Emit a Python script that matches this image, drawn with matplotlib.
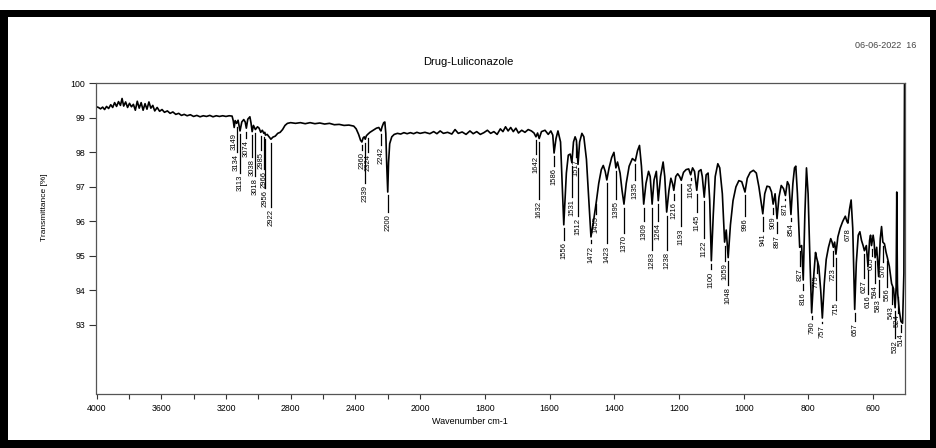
import numpy as np
import matplotlib
matplotlib.use('Agg')
import matplotlib.pyplot as plt
from matplotlib.patches import Rectangle

plt.rcParams['font.family'] = ['Liberation Sans', 'DejaVu Sans']

# spectrum vertices (wavenumber cm-1, transmittance %)
wn = [4000, 3988, 3975, 3962, 3950, 3938, 3925, 3912, 3900, 3888, 3876, 3864, 3852, 3842, 3832, 3820,
      3808, 3796, 3784, 3772, 3760, 3748, 3736, 3724, 3712, 3700, 3688, 3676, 3664, 3652, 3640, 3625,
      3610, 3595, 3580, 3562, 3545, 3528, 3510, 3492, 3475, 3458, 3440, 3420, 3400, 3380, 3360, 3340,
      3320, 3300, 3280, 3260, 3240, 3220, 3200, 3180, 3162, 3155, 3149, 3143, 3134, 3125, 3113, 3102,
      3090, 3081, 3074, 3065, 3052, 3045, 3038, 3030, 3018, 3005, 2995, 2985, 2975, 2966, 2960, 2956,
      2945, 2935, 2922, 2910, 2895, 2880, 2865, 2850, 2835, 2820, 2800, 2770, 2740, 2710, 2680, 2650,
      2620, 2590, 2560, 2530, 2500, 2470, 2440, 2410, 2395, 2380, 2368, 2360, 2352, 2345, 2339, 2332,
      2324, 2310, 2290, 2270, 2255, 2248, 2242, 2235, 2225, 2218, 2212, 2206, 2200, 2195, 2188, 2175,
      2160, 2140, 2120, 2100, 2080, 2060, 2040, 2020, 2000, 1985, 1970, 1958, 1948, 1938, 1928, 1915,
      1902, 1892, 1882, 1870, 1858, 1846, 1836, 1825, 1814, 1803, 1792, 1782, 1772, 1762, 1752, 1744,
      1736, 1728, 1720, 1712, 1704, 1696, 1686, 1676, 1666, 1656, 1648, 1642, 1637, 1632, 1625, 1614,
      1604, 1596, 1590, 1586, 1580, 1574, 1566, 1556, 1548, 1542, 1536, 1531, 1526, 1521, 1517, 1512,
      1507, 1500, 1494, 1486, 1479, 1472, 1465, 1458, 1455, 1448, 1440, 1434, 1428, 1423, 1416, 1408,
      1401, 1395, 1390, 1382, 1376, 1370, 1363, 1354, 1344, 1335, 1328, 1322, 1316, 1309, 1302, 1294,
      1289, 1283, 1277, 1270, 1264, 1257, 1249, 1244, 1238, 1231, 1225, 1220, 1216, 1210, 1204, 1198,
      1193, 1186, 1178, 1170, 1164, 1158, 1152, 1145, 1139, 1132, 1128, 1122, 1116, 1110, 1105, 1100,
      1094, 1088, 1080, 1074, 1066, 1059, 1054, 1048, 1041, 1033, 1024, 1015, 1006, 996, 989, 980,
      970, 961, 953, 947, 941, 935, 928, 920, 914, 909, 903, 897, 891, 884, 877, 871,
      865, 860, 854, 848, 843, 839, 834, 827, 821, 816, 811, 806, 801, 795, 790, 783,
      778, 775, 768, 762, 757, 751, 745, 738, 731, 727, 723, 719, 715, 709, 702, 694,
      686, 681, 678, 673, 668, 663, 657, 652, 646, 641, 636, 631, 627, 621, 616, 611,
      608, 605, 600, 597, 594, 589, 583, 578, 574, 570, 565, 560, 556, 550, 543, 537,
      532, 529, 527, 525, 524, 519, 514, 509, 505, 503]
tr = [99.32, 99.30, 99.26, 99.31, 99.24, 99.33, 99.27, 99.38, 99.30, 99.44, 99.33, 99.47, 99.36, 99.56, 99.34, 99.46,
      99.30, 99.42, 99.32, 99.39, 99.22, 99.48, 99.28, 99.44, 99.22, 99.41, 99.25, 99.46, 99.28, 99.36, 99.20, 99.30,
      99.19, 99.24, 99.16, 99.20, 99.13, 99.17, 99.10, 99.13, 99.07, 99.10, 99.06, 99.09, 99.04, 99.07, 99.03, 99.06,
      99.04, 99.07, 99.03, 99.06, 99.04, 99.06, 99.04, 99.06, 99.05, 98.92, 98.72, 98.92, 98.84, 98.93, 98.62, 98.88,
      98.95, 98.88, 98.70, 98.96, 99.03, 98.85, 98.60, 98.78, 98.66, 98.74, 98.70, 98.58, 98.64, 98.55, 98.58, 98.50,
      98.52, 98.46, 98.38, 98.44, 98.47, 98.55, 98.58, 98.66, 98.78, 98.84, 98.86, 98.84, 98.86, 98.83, 98.86, 98.83,
      98.85, 98.82, 98.84, 98.80, 98.81, 98.78, 98.79, 98.76, 98.68, 98.52, 98.35, 98.30, 98.42, 98.45, 98.38, 98.48,
      98.52, 98.58, 98.64, 98.70, 98.72, 98.66, 98.62, 98.74, 98.86, 98.88, 98.55, 97.60, 96.85, 97.70, 98.25, 98.45,
      98.52, 98.55, 98.53, 98.57, 98.54, 98.57, 98.54, 98.58, 98.55, 98.58, 98.54, 98.60, 98.54, 98.62, 98.55, 98.58,
      98.53, 98.66, 98.55, 98.59, 98.52, 98.62, 98.54, 98.60, 98.52, 98.57, 98.64, 98.55, 98.60, 98.52, 98.68, 98.60,
      98.74, 98.62, 98.72, 98.60, 98.70, 98.56, 98.64, 98.58, 98.66, 98.62, 98.56, 98.45, 98.56, 98.40, 98.60, 98.64,
      98.52, 98.62, 98.50, 97.98, 98.40, 98.62, 98.30, 95.90, 97.40, 97.92, 97.95, 97.70, 98.30, 98.45, 98.35, 97.65,
      98.30, 98.55, 98.45, 97.80, 96.70, 95.55, 95.95, 96.40, 96.60, 97.10, 97.50, 97.62, 97.45, 97.20, 97.55, 97.85,
      98.00, 97.55, 97.72, 97.40, 96.90, 96.50, 97.10, 97.60, 97.82, 97.75, 98.05, 98.20, 97.60, 96.50, 97.10, 97.45,
      97.30, 96.50, 97.20, 97.45, 96.60, 97.30, 97.72, 97.30, 96.27, 96.90, 97.25, 97.10, 96.90, 97.30, 97.38, 97.30,
      97.19, 97.42, 97.50, 97.52, 97.35, 97.55, 97.45, 96.90, 97.45, 97.50, 97.30, 96.70, 97.35, 97.40, 96.60, 94.86,
      96.20, 97.30, 97.67, 97.55, 96.80, 95.40, 95.75, 94.95, 95.90, 96.60, 97.00, 97.18, 97.15, 96.85, 97.25, 97.42,
      97.48, 97.40, 97.00, 96.60, 96.22, 96.80, 97.02, 97.00, 96.85, 96.50, 96.80, 96.08, 96.70, 97.04, 96.95, 96.75,
      97.15, 97.05, 96.20, 97.10, 97.55, 97.60, 96.80, 95.25, 95.30, 94.30, 96.20, 97.55, 96.80, 94.80, 93.35, 94.50,
      95.10, 94.96, 94.70, 94.00, 93.20, 94.20, 94.90, 95.25, 95.50, 95.40, 95.25, 95.40, 95.05, 95.55, 95.80, 96.00,
      96.15, 96.00, 95.95, 96.35, 96.62, 95.80, 93.45, 94.80, 95.60, 95.70, 95.45, 95.30, 95.15, 95.30, 94.70, 95.45,
      95.60, 95.30, 95.60, 95.40, 94.95, 95.25, 94.40, 95.50, 95.85, 95.40, 95.35, 95.10, 94.95, 94.70, 94.20, 94.05,
      93.50, 94.10, 96.85, 94.20, 93.90, 93.40, 93.10, 93.05, 94.50, 100.0]

# labelled peaks
peak_wn = [3149, 3134, 3113, 3074, 3038, 3018, 2985, 2966, 2956, 2922, 2360, 2339, 2324, 2242, 2200,
           1642, 1632, 1586, 1556, 1531, 1517, 1512, 1472, 1455, 1423, 1395, 1370, 1335, 1309, 1283,
           1264, 1238, 1216, 1193, 1164, 1145, 1122, 1100, 1059, 1048, 996, 941, 909, 897, 871, 854,
           827, 816, 790, 775, 757, 723, 715, 678, 657, 627, 616, 605, 594, 583, 570, 556, 543, 532,
           524, 514]
# top of each label text (in % units), staggered so crowded labels do not collide
label_top = [98.55, 97.95, 97.35, 98.35, 97.8, 97.25, 98.0, 97.45, 96.9, 96.35, 98.0, 97.05, 97.95, 98.15, 96.2,
             97.9, 96.6, 97.55, 95.4, 96.65, 97.8, 96.1, 95.3, 96.15, 95.3, 96.6, 95.6, 97.15, 95.95, 95.1,
             95.95, 95.1, 96.55, 95.8, 97.15, 96.2, 95.45, 94.55, 94.8, 94.1, 96.1, 95.65, 96.15, 95.6, 96.55, 95.95,
             94.65, 93.95, 93.1, 94.45, 93.0, 94.65, 93.65, 95.8, 93.05, 94.3, 93.85, 94.95, 94.15, 93.75, 94.75,
             94.05, 93.55, 92.55, 93.3, 92.75]

x_major = [4000, 3600, 3200, 2800, 2400, 2000, 1800, 1600, 1400, 1200, 1000, 800, 600]
x_minor = [3800, 3400, 3000, 2600, 2200]
y_ticks = [93, 94, 95, 96, 97, 98, 99, 100]


# OPUS style axis: above 2000 cm-1 half the scale of below 2000
def fwd(w):
    w = np.asarray(w, dtype=float)
    return np.where(w >= 2000, w, 2 * w - 2000)


def inv(p):
    p = np.asarray(p, dtype=float)
    return np.where(p >= 2000, p, (p + 2000) / 2)


fig = plt.figure(figsize=(9.37, 4.48), dpi=100)
ax = fig.add_axes([96.5 / 937, 1 - 394 / 448, 809 / 937, 310.7 / 448])
ax.set_xscale('function', functions=(fwd, inv))

ax.plot(wn, tr, color='black', linewidth=1.2)

# peak labels with leader lines
wn_arr = np.array(wn)[::-1]
tr_arr = np.array(tr)[::-1]
for w, top in zip(peak_wn, label_top):
    t = np.interp(w, wn_arr, tr_arr)
    if t - 0.1 > top + 0.06:
        ax.plot([w, w], [t - 0.1, top + 0.06], color='black', linewidth=0.9)
    ax.text(w, top, str(w), rotation=90, ha='center', va='top', fontsize=5.5)

ax.set_xlim(4000, 500)
ax.set_ylim(91, 100)
ax.set_xticks(x_major)
ax.set_xticks(x_minor, minor=True)
ax.set_yticks(y_ticks)
ax.set_xticklabels([str(v) for v in x_major], fontsize=6.3)
ax.set_yticklabels([str(v) for v in y_ticks], fontsize=6.3)
ax.tick_params(axis='x', which='both', direction='out', length=3.5, width=0.8, pad=3.5, color='#333333')
ax.tick_params(axis='y', direction='out', length=5, width=0.8, pad=3, color='#333333')
for s in ax.spines.values():
    s.set_color('#555555')
    s.set_linewidth(0.9)

fig.text(468 / 937, 1 - 62 / 448, 'Drug-Luliconazole', ha='center', va='center', fontsize=8)
fig.text(916 / 937, 1 - 45 / 448, '06-06-2022  16', ha='right', va='center', fontsize=6.5, color='#444444')
fig.text(45 / 937, 1 - 207 / 448, 'Transmittance [%]', rotation=90, ha='center', va='center', fontsize=6)
fig.text(470 / 937, 1 - 421 / 448, 'Wavenumber cm-1', ha='center', va='center', fontsize=6.5)

# thick black frame of the screenshot
for x0, y0, w0, h0 in [(0, 0, 8, 438), (0, 431, 937, 7), (930, 0, 7, 438), (0, 0, 937, 8)]:
    fig.add_artist(Rectangle((x0 / 937, y0 / 448), w0 / 937, h0 / 448, transform=fig.transFigure,
                             facecolor='black', edgecolor='none'))

fig.savefig('out.png', dpi=100)
